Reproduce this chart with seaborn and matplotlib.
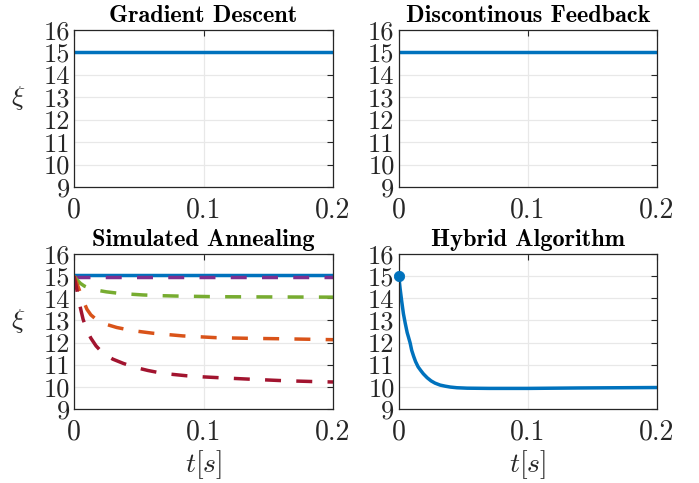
import matplotlib
matplotlib.use("Agg")
import matplotlib.pyplot as plt
import seaborn as sns
import pandas as pd
import numpy as np

sns.set_style("white")
plt.rcParams["font.family"] = ["cmr10", "DejaVu Serif"]
plt.rcParams["mathtext.fontset"] = "cm"
plt.rcParams["axes.formatter.use_mathtext"] = True

# 数据
titles = ["Gradient Descent", "Discontinous Feedback", "Simulated Annealing", "Hybrid Algorithm"]
xticks = [0, 0.1, 0.2]
xticklabels = ["0", "0.1", "0.2"]
yticks = [9, 10, 11, 12, 13, 14, 15, 16]

t_const = [0.0, 0.2]
xi_gd = [15.0, 15.0]
xi_df = [15.0, 15.0]

# 模拟退火的各条曲线
t_blue = [0.0, 0.2]
xi_blue = [15.03, 15.03]
t_purple = [0.0, 0.2]
xi_purple = [14.94, 14.94]
t_green = [0.0, 0.002, 0.005, 0.008, 0.012, 0.017, 0.025, 0.035, 0.045, 0.053, 0.065, 0.079, 0.11, 0.15, 0.2]
xi_green = [15.0, 14.85, 14.67, 14.55, 14.45, 14.37, 14.29, 14.22, 14.18, 14.15, 14.12, 14.1, 14.07, 14.06, 14.05]
t_orange = [0.0, 0.003, 0.006, 0.01, 0.013, 0.017, 0.021, 0.025, 0.033, 0.045, 0.061, 0.084, 0.11, 0.136, 0.161, 0.19, 0.2]
xi_orange = [15.0, 14.55, 14.05, 13.5, 13.25, 13.05, 12.9, 12.82, 12.68, 12.54, 12.42, 12.3, 12.22, 12.19, 12.17, 12.14, 12.13]
t_red = [0.0, 0.002, 0.004, 0.007, 0.01, 0.013, 0.017, 0.021, 0.025, 0.03, 0.038, 0.045, 0.05, 0.057, 0.064,
         0.075, 0.087, 0.1, 0.113, 0.138, 0.161, 0.19, 0.2]
xi_red = [15.0, 14.45, 13.8, 13.05, 12.55, 12.2, 11.85, 11.6, 11.42, 11.25, 11.06, 10.92, 10.84, 10.74, 10.66,
          10.57, 10.5, 10.45, 10.41, 10.34, 10.28, 10.23, 10.22]

# 混合算法
t_hyb = [0.0, 0.001, 0.0023, 0.0036, 0.005, 0.0065, 0.0075, 0.0088, 0.01, 0.0115, 0.013, 0.015, 0.017, 0.019,
         0.022, 0.025, 0.028, 0.032, 0.036, 0.04, 0.045, 0.053, 0.07, 0.1, 0.14, 0.2]
xi_hyb = [15.0, 14.45, 13.85, 13.3, 12.87, 12.45, 12.25, 11.98, 11.65, 11.38, 11.14, 10.9, 10.74, 10.59,
          10.41, 10.27, 10.17, 10.08, 10.03, 9.99, 9.96, 9.94, 9.93, 9.93, 9.95, 9.97]

c_blue = "#0072BD"
c_orange = "#D95319"
c_purple = "#7E2F8E"
c_green = "#77AC30"
c_red = "#A2142F"

fig = plt.figure(figsize=(6.99, 4.83), dpi=100)
pos = [[0.1059, 0.6128, 0.3705, 0.325],
       [0.5705, 0.6128, 0.3695, 0.325],
       [0.1059, 0.1532, 0.3705, 0.321],
       [0.5705, 0.1532, 0.3695, 0.321]]
axes = [fig.add_axes(p) for p in pos]

# 上面两张图：常数
sns.lineplot(x=t_const, y=xi_gd, ax=axes[0], color=c_blue, linewidth=2.5)
sns.lineplot(x=t_const, y=xi_df, ax=axes[1], color=c_blue, linewidth=2.5)

# 模拟退火
runs = [("a", t_blue, xi_blue), ("b", t_purple, xi_purple), ("c", t_green, xi_green),
        ("d", t_orange, xi_orange), ("e", t_red, xi_red)]
df = pd.concat([pd.DataFrame({"t": tt, "xi": yy, "run": name}) for name, tt, yy in runs])
dash = (4.6, 4.4)
sns.lineplot(data=df, x="t", y="xi", hue="run", style="run", ax=axes[2],
             palette={"a": c_blue, "b": c_purple, "c": c_green, "d": c_orange, "e": c_red},
             dashes={"a": "", "b": dash, "c": dash, "d": dash, "e": dash},
             estimator=None, sort=False, linewidth=2.5, legend=False)

# 混合算法
sns.lineplot(x=t_hyb, y=xi_hyb, ax=axes[3], color=c_blue, linewidth=2.5, sort=False)
sns.scatterplot(x=t_hyb[:1], y=xi_hyb[:1], ax=axes[3], color=c_blue, s=55, edgecolor=c_blue, zorder=5, clip_on=False)

for i, ax in enumerate(axes):
    ax.set_xlim(0, 0.2)
    ax.set_ylim(9, 16)
    ax.set_xticks(xticks)
    ax.set_xticklabels(xticklabels, fontsize=20)
    ax.set_yticks(yticks)
    ax.set_yticklabels([str(v) for v in yticks], fontsize=19)
    ax.grid(True, color="#e8e8e8", linewidth=0.9)
    ax.set_axisbelow(True)
    ax.tick_params(direction="in", length=4, width=0.8, top=True, right=True,
                   colors="#262626", pad=2)
    ax.tick_params(axis="y", pad=3)
    ax.tick_params(axis="x", pad=7)
    for s in ax.spines.values():
        s.set_color("#262626")
        s.set_linewidth(0.9)
    ax.set_title(titles[i], fontsize=17.5, family="cmb10", pad=6, color="#000000")
    ax.set_xlabel("")
    ax.set_ylabel("")

for ax in (axes[0], axes[2]):
    ax.set_ylabel(r"$\xi$", fontsize=20, rotation=0, va="center", ha="center")
    ax.yaxis.set_label_coords(-0.215, 0.57)
axes[2].set_xlabel(r"$t[s]$", fontsize=20, labelpad=2)
axes[3].set_xlabel(r"$t[s]$", fontsize=20, labelpad=2)

plt.savefig("out.png", dpi=100)
